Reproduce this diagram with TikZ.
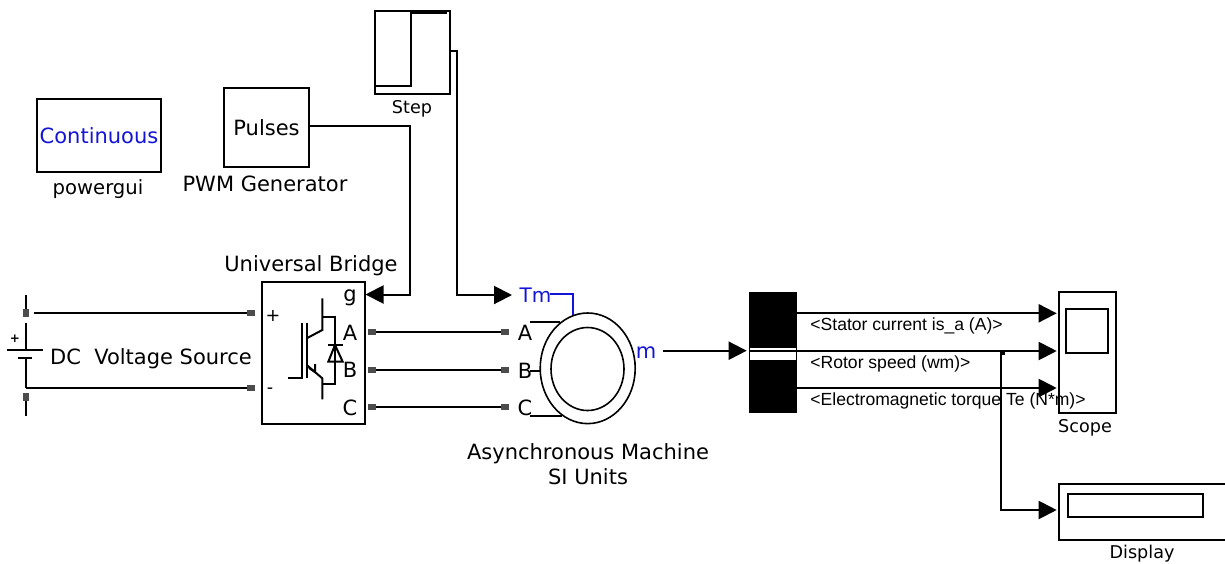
\documentclass[tikz,border=0pt]{standalone}
\usepackage{fontspec}
\setmainfont{DejaVu Sans}
\newfontfamily\signalfont{Liberation Sans}
\usetikzlibrary{ arrows.meta,
                 shapes.geometric, % For the machine rings
               }
\definecolor{simblue}{RGB}{20,20,215}
\tikzstyle{block} = [rectangle, draw=black, line width=1pt, inner sep=0pt, font=\fontsize{10.5}{12}\selectfont]
\tikzstyle{ring} = [ellipse, draw=black, line width=0.8pt, inner sep=0pt]
\tikzstyle{port} = [rectangle, fill=black!70, inner sep=0pt, minimum width=4pt, minimum height=3pt]
\tikzstyle{wire} = [draw=black, line width=1pt]
\tikzstyle{signal} = [wire, -{Triangle[length=9pt,width=9pt]}]
\tikzstyle{caption} = [font=\fontsize{10.5}{12}\selectfont, inner sep=0pt]
\tikzstyle{tiny} = [font=\fontsize{8.8}{10}\selectfont, inner sep=0pt]
\tikzstyle{busname} = [font=\signalfont\fontsize{8.78}{10}\selectfont, inner sep=0pt, anchor=west]
\begin{document}
\begin{tikzpicture}[x=0.5pt, y=-0.5pt]
  \useasboundingbox (0, 0) rectangle (1225, 563);

  % top row
  \node (gui) [block, minimum width=62pt, minimum height=36.5pt, text=simblue] at (99, 135.5) {Continuous};
  \node (guitext) [tiny, font=\fontsize{9.8}{12}\selectfont] at (98, 189) {powergui};
  \node (pwm) [block, minimum width=42.5pt, minimum height=39.5pt] at (266.5, 127.5) {Pulses};
  \node (pwmtext) [caption] at (265, 184) {PWM Generator};
  \node (stepsrc) [block, minimum width=37.5pt, minimum height=41.5pt] at (412, 52.5) {};
  \node (steptext) [tiny] at (412, 109) {Step};
  \draw [wire] (374, 86) -- (410.5, 86) -- (410.5, 13) -- (447, 13);

  % source
  \node (dcplus) [port, minimum width=3pt, minimum height=4pt] at (26, 313) {};
  \node (dcminus) [port, minimum width=3pt, minimum height=4pt] at (26, 397) {};
  \node (dcsign) [font=\bfseries\fontsize{6}{8}\selectfont, inner sep=0pt] at (15, 339) {+};
  \node (dctext) [caption] at (151, 359) {DC~ Voltage Source};
  \coordinate (dctop) at (26, 295);
  \coordinate (dcbottom) at (26, 416);
  \coordinate (dcout) at (34, 313);
  \coordinate (dcjoin) at (26, 388);
  \draw [wire] (dctop) -- (dcplus);
  \draw [wire] (26, 323) -- (26, 350);
  \draw [wire] (26, 358) -- (dcjoin);
  \draw [wire] (dcminus) -- (dcbottom);
  \draw [wire] (7, 350) -- (43, 350);
  \draw [wire] (18, 358) -- (32, 358);

  % bridge
  \node (bridge) [block, minimum width=51.5pt, minimum height=71pt] at (313.5, 353) {};
  \node (bridgetext) [caption] at (311, 266) {Universal Bridge};
  \node (bplus) [port] at (251, 313) {};
  \node (bminus) [port] at (251, 388) {};
  \node (bA) [port] at (372, 332) {};
  \node (bB) [port] at (372, 369.5) {};
  \node (bC) [port] at (372, 407) {};
  \node (bptext) [tiny] at (273, 316) {+};
  \node (bmtext) [tiny] at (270, 391) {-};
  \node (gtext) [caption] at (350, 298) {g};
  \node (atext) [caption] at (350, 333) {A};
  \node (btext) [caption] at (350, 370) {B};
  \node (ctext) [caption] at (350, 408) {C};
  \draw [wire] (322.3, 298.3) -- (322.3, 330) -- (306.7, 338.3);
  \draw [wire] (322.3, 316.7) -- (335, 316.7) -- (335, 384) -- (322.3, 384);
  \draw [wire] (301.7, 323.3) -- (301.7, 378.3) -- (288.3, 378.3);
  \draw [wire] (306.7, 323.3) -- (306.7, 378.3);
  \draw [wire] (306.7, 365) -- (322.3, 378.3) -- (322.3, 399.3);
  \draw [wire] (315, 364) -- (315, 372) -- (309, 368);
  \draw [wire, line join=miter] (335, 345) -- (328.3, 361.7) -- (342.7, 361.7) -- cycle;
  \draw [wire] (328.3, 345) -- (342.7, 345);

  % machine
  \node (stator) [ring, minimum width=47.5pt, minimum height=55.3pt] at (587.7, 368.3) {};
  \node (rotor) [ring, minimum width=36.5pt, minimum height=41.5pt] at (587.5, 369) {};
  \node (mA) [port] at (505, 332) {};
  \node (mB) [port] at (505, 369.5) {};
  \node (mC) [port] at (505, 407) {};
  \node (tmtext) [caption, text=simblue, font=\fontsize{10}{12}\selectfont] at (535.5, 295) {Tm};
  \node (mtext) [caption, text=simblue] at (646, 353) {m};
  \node (matext) [caption] at (525, 333) {A};
  \node (mbtext) [caption] at (525, 371) {B};
  \node (mctext) [caption] at (525, 408) {C};
  \node (mname) [caption] at (588, 454) {Asynchronous Machine};
  \node (munits) [caption] at (588, 477) {SI Units};
  \draw [wire] (530, 322.3) -- (560, 322.3);
  \draw [wire] (530, 370.7) -- (540.5, 370.7);
  \draw [wire] (530, 416) -- (561.7, 416);
  \draw [wire, draw=simblue] (550, 294) -- (573.3, 294) -- (573.3, 315);

  % bus selector
  \node (bus) [rectangle, fill=black, inner sep=0pt, minimum width=24.2pt, minimum height=60.5pt] at (773, 352.5) {};
  \node (slot) [rectangle, fill=white, inner sep=0pt, minimum width=23pt, minimum height=7pt] at (773, 353) {};
  \coordinate (busin) at (746.7, 350.7);
  \coordinate (busA) at (797.3, 313.3);
  \coordinate (busB) at (797.3, 351);
  \coordinate (busC) at (797.3, 388);
  \draw [wire, line width=1.2pt] (750, 351) -- (busB);
  \draw [wire, line width=0.7pt] (750, 347) -- (796, 347);

  % outputs
  \node (scope) [block, minimum width=28.5pt, minimum height=60.2pt] at (1087.2, 352.5) {};
  \node (screen) [block, minimum width=21.2pt, minimum height=21.7pt] at (1086.9, 331) {};
  \node (scopetext) [tiny] at (1085, 428) {Scope};
  \node (display) [block, minimum width=84.5pt, minimum height=28pt] at (1143.5, 512) {};
  \node (window) [block, line width=0.8pt, minimum width=67.5pt, minimum height=11.6pt] at (1135.5, 505.4) {};
  \node (displaytext) [tiny] at (1142, 554) {Display};
  \coordinate (scopeA) at (1056.7, 313.3);
  \coordinate (scopeB) at (1056.7, 351);
  \coordinate (scopeC) at (1056.7, 388);
  \coordinate (displayin) at (1056.7, 510);
  \node (branch) [rectangle, fill=black, inner sep=0pt, minimum size=2.5pt] at (1002.5, 352.5) {};
  \node (nameA) [busname] at (810, 326) {<Stator current is\_a (A)>};
  \node (nameB) [busname] at (810, 364) {<Rotor speed (wm)>};
  \node (nameC) [busname] at (810, 401) {<Electromagnetic torque Te (N*m)>};

  % connections
  \coordinate (pwmout) at (309, 126);
  \coordinate (stepout) at (449, 51);
  \coordinate (bridgeg) at (365.5, 294.5);
  \coordinate (tmin) at (512, 295);
  \coordinate (mout) at (663, 350.7);
  \draw [signal] (pwmout) -- ++(101, 0) |- (bridgeg);
  \draw [signal] (stepout) -- ++(8, 0) |- (tmin);
  \draw [wire] (dcout) -- (bplus);
  \draw [wire] (dcjoin) -- (bminus);
  \draw [wire] (bA) -- (mA);
  \draw [wire] (bB) -- (mB);
  \draw [wire] (bC) -- (mC);
  \draw [signal] (mout) -- (busin);
  \draw [signal] (busA) -- (scopeA);
  \draw [signal] (busB) -- (scopeB);
  \draw [signal] (busC) -- (scopeC);
  \draw [signal] (1000.5, 351) |- (displayin);
\end{tikzpicture}
\end{document}
